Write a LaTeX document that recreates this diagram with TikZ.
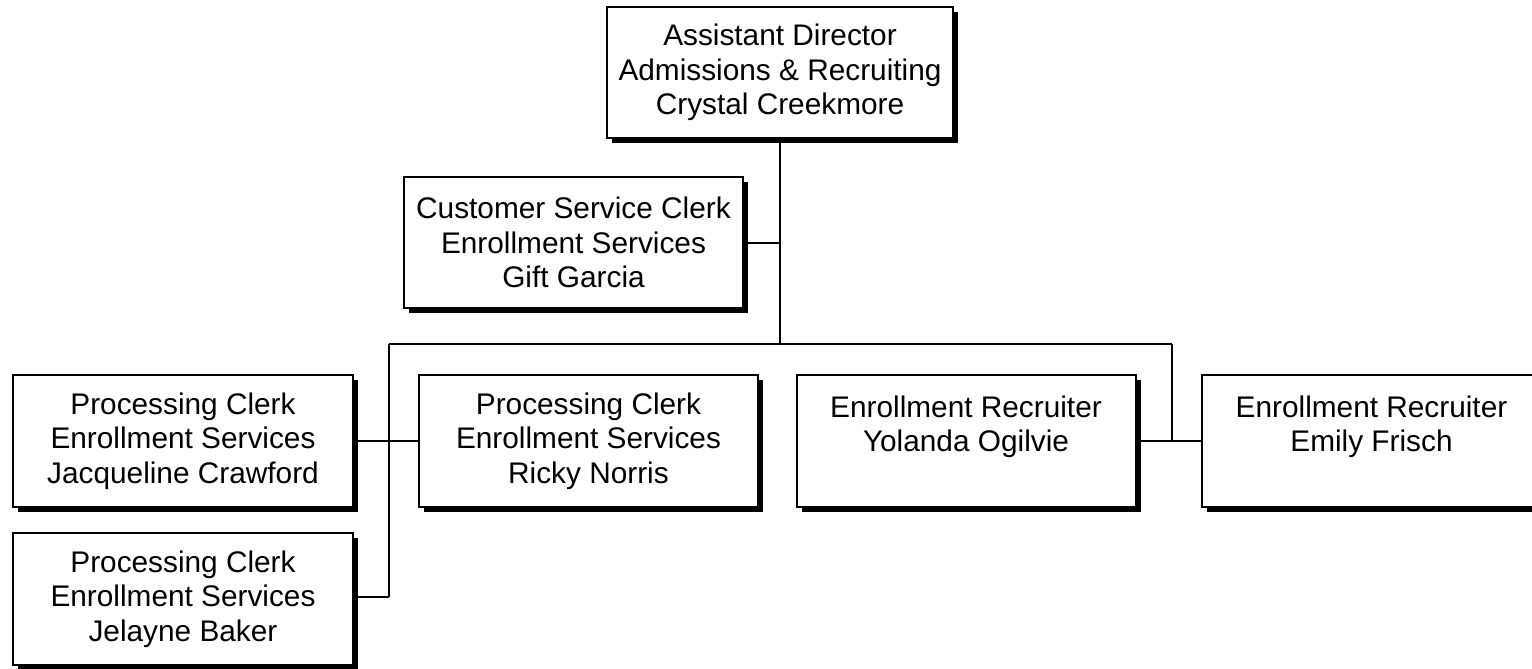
\documentclass[tikz,border=0pt]{standalone}
\usepackage{fontspec}
\setmainfont{Liberation Sans}
\usetikzlibrary{shadows,backgrounds}
\tikzset{
  posbox/.style={draw=black, line width=2pt, fill=white, rectangle, inner sep=0pt,
    minimum width=339pt, minimum height=131pt, align=center,
    font=\fontsize{29.8}{34.5}\selectfont,
    drop shadow={shadow xshift=5pt, shadow yshift=-5pt, opacity=1, fill=black}},
  link/.style={draw=black, line width=2pt}
}
\begin{document}
\begin{tikzpicture}[x=1pt,y=-1pt]
\useasboundingbox (0,0) rectangle (1532,669);
\clip (0,0) rectangle (1532,669);
\node[posbox, minimum width=346pt] (dir) at (780,72.5) {Assistant Director\\Admissions \& Recruiting\\Crystal Creekmore};
\node[posbox] (csc) at (573.5,242.5) {Customer Service Clerk\\Enrollment Services\\Gift Garcia};
\node[posbox, minimum width=340pt, minimum height=132pt] (pc1) at (183,441) {Processing Clerk\\Enrollment Services\\Jacqueline Crawford};
\node[posbox, minimum width=340pt, minimum height=132pt] (pc2) at (183,599) {Processing Clerk\\Enrollment Services\\Jelayne Baker};
\node[posbox, minimum height=132pt] (rn) at (588.5,441) {Processing Clerk\\Enrollment Services\\Ricky Norris};
\node[posbox, minimum height=132pt] (yo) at (966,441) {Enrollment Recruiter\\Yolanda Ogilvie\\\mbox{}};
\node[posbox, minimum height=132pt] (ef) at (1371.5,441) {Enrollment Recruiter\\Emily Frisch\\\mbox{}};
\coordinate (barL) at (389,344);
\coordinate (barR) at (1172,344);
\coordinate (pcTrunk) at (389,597);
\begin{scope}[on background layer]
\fill[white] (0,0) rectangle (1532,669);
\draw[link] (dir.south) -- (dir.south |- barL);
\draw[link] (csc.east) -- (csc.east -| dir.south);
\draw[link] (barL) -- (barR);
\draw[link] (barL) -- (pcTrunk);
\draw[link] (pc1.east) -- (rn.west);
\draw[link] (pc2.east |- pcTrunk) -- (pcTrunk);
\draw[link] (barR) -- (barR |- ef.west);
\draw[link] (yo.east) -- (ef.west);
\end{scope}
\end{tikzpicture}
\end{document}
